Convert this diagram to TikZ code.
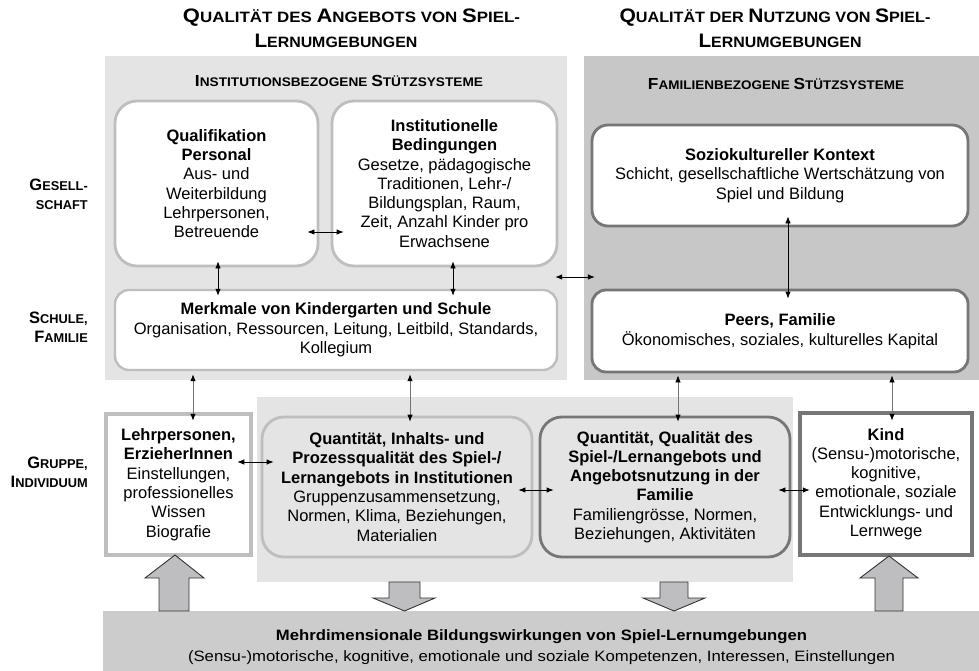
\documentclass[tikz,border=0pt]{standalone}
\usepackage{fontspec}
\setmainfont{Liberation Sans}
\usetikzlibrary{arrows.meta}
\definecolor{panelL}{RGB}{228,228,229}
\definecolor{panelD}{RGB}{199,199,200}
\definecolor{barC}{RGB}{204,204,205}
\definecolor{bordL}{RGB}{190,190,191}
\definecolor{bordD}{RGB}{118,118,118}
\definecolor{bigarr}{RGB}{190,190,192}
\def\bigsz{17}
\newcommand{\Bg}[1]{{\fontsize{\bigsz}{\bigsz}\selectfont #1}}
\begin{document}
\begin{tikzpicture}[x=1pt,y=-1pt,
  box/.style={align=center, inner sep=0pt, font=\fontsize{16.5}{19.3}\selectfont, text=black},
  lbox/.style={box, draw=bordL, line width=2.8pt, fill=white},
  dbox/.style={box, draw=bordD, line width=2.8pt, fill=white},
  panel/.style={inner sep=0pt, draw=none},
  arr/.style={{Latex[length=7pt,width=5.5pt]}-{Latex[length=7pt,width=5.5pt]}, line width=0.8pt, draw=black},
  garr/.style={{Latex[length=7pt,width=5.5pt,color=black]}-{Latex[length=7pt,width=5.5pt,color=black]}, line width=0.8pt, draw=black!55},
  bigarrow/.style={fill=bigarr, draw=black!80, line width=0.9pt, line join=miter},
  rowlab/.style={align=right, anchor=east, inner sep=0pt, font=\bfseries\fontsize{12.8}{19}\selectfont\def\bigsz{16.5}},
  head/.style={inner sep=0pt, font=\bfseries\fontsize{12.5}{14}\selectfont\def\bigsz{16}},
  title/.style={inner sep=0pt, font=\bfseries\fontsize{15}{20}\selectfont\def\bigsz{19.5}}
]
\useasboundingbox (0,0) rectangle (979,671);

% panels
\node[panel, fill=panelL, minimum width=462pt, minimum height=324pt] (lpanel) at (336,218) {};
\node[panel, fill=panelD, minimum width=395pt, minimum height=324pt] (rpanel) at (781.5,218) {};
\node[panel, fill=panelL, minimum width=536pt, minimum height=185pt] (mpanel) at (525,489.5) {};
\node[panel, fill=barC, minimum width=876pt, minimum height=60pt] (bar) at (541,641) {};

% titles
\node[title] (t1a) at (351.5,18) {\resizebox{337pt}{\height}{\Bg{Q}UALITÄT DES \Bg{A}NGEBOTS VON \Bg{S}PIEL-}};
\node[title] (t1b) at (336,41) {\resizebox{163pt}{\height}{\Bg{L}ERNUMGEBUNGEN}};
\node[title] (t2a) at (775,18) {\resizebox{311pt}{\height}{\Bg{Q}UALITÄT DER \Bg{N}UTZUNG VON \Bg{S}PIEL-}};
\node[title] (t2b) at (780,41) {\resizebox{163pt}{\height}{\Bg{L}ERNUMGEBUNGEN}};
\node[head] (h1) at (339,81) {\resizebox{288pt}{\height}{\Bg{I}NSTITUTIONSBEZOGENE \Bg{S}TÜTZSYSTEME}};
\node[head] (h2) at (776,84) {\resizebox{256pt}{\height}{\Bg{F}AMILIENBEZOGENE \Bg{S}TÜTZSYSTEME}};

% row labels
\node[rowlab] (r1) at (88,194) {\Bg{G}ESELL-\\SCHAFT};
\node[rowlab] (r2) at (88,327.5) {\Bg{S}CHULE,\\\Bg{F}AMILIE};
\node[rowlab] (r3) at (88,472.5) {\Bg{G}RUPPE,\\\Bg{I}NDIVIDUUM};

% upper boxes
\node[lbox, minimum width=203pt, minimum height=165pt, rounded corners=22pt] (qual) at (216.5,183.5)
 {\textbf{Qualifikation}\\\textbf{Personal}\\Aus- und\\Weiterbildung\\Lehrpersonen,\\Betreuende};
\node[lbox, minimum width=225pt, minimum height=165pt, rounded corners=22pt] (inst) at (444.5,183.5)
 {\textbf{Institutionelle}\\\textbf{Bedingungen}\\Gesetze, pädagogische\\Traditionen, Lehr-/\\Bildungsplan, Raum,\\Zeit, Anzahl Kinder pro\\Erwachsene};
\node[lbox, line width=2.4pt, minimum width=442pt, minimum height=80pt, rounded corners=14pt] (merk) at (336,330)
 {\textbf{Merkmale von Kindergarten und Schule}\\Organisation, Ressourcen, Leitung, Leitbild, Standards,\\Kollegium};
\node[dbox, minimum width=376pt, minimum height=101pt, rounded corners=16pt] (sozio) at (780,175.5)
 {\textbf{Soziokultureller Kontext}\\Schicht, gesellschaftliche Wertschätzung von\\Spiel und Bildung};
\node[dbox, minimum width=376pt, minimum height=82pt, rounded corners=14pt] (peers) at (780,331)
 {\textbf{Peers, Familie}\\[0.8pt]Ökonomisches, soziales, kulturelles Kapital};

% lower boxes
\node[box, draw=bordL, line width=4.5pt, fill=white, minimum width=145pt, minimum height=141pt] (lehr) at (178.5,484.5)
 {\textbf{Lehrpersonen,}\\\textbf{ErzieherInnen}\\Einstellungen,\\professionelles\\Wissen\\Biografie};
\node[lbox, fill=panelL, minimum width=270pt, minimum height=140pt, rounded corners=22pt] (qi) at (397,487)
 {\textbf{Quantität, Inhalts- und}\\\textbf{Prozessqualität des Spiel-/}\\\textbf{Lernangebots in Institutionen}\\Gruppenzusammensetzung,\\Normen, Klima, Beziehungen,\\Materialien};
\node[dbox, fill=panelL, minimum width=250pt, minimum height=140pt, rounded corners=22pt] (qf) at (665,487)
 {\textbf{Quantität, Qualität des}\\\textbf{Spiel-/Lernangebots und}\\\textbf{Angebotsnutzung in der}\\\textbf{Familie}\\Familiengrösse, Normen,\\Beziehungen, Aktivitäten};
\node[box, draw=bordD, line width=4.5pt, fill=white, minimum width=172pt, minimum height=142pt] (kind) at (886,484)
 {\textbf{Kind}\\(Sensu-)motorische,\\kognitive,\\emotionale, soziale\\Entwicklungs- und\\Lernwege};

% bottom bar text
\node[align=center, inner sep=0pt, font=\fontsize{15}{21}\selectfont] (bartext) at (541.5,647.5)
 {\resizebox{531pt}{\height}{\textbf{Mehrdimensionale Bildungswirkungen von Spiel-Lernumgebungen}}\\
  \resizebox{707pt}{\height}{(Sensu-)motorische, kognitive, emotionale und soziale Kompetenzen, Interessen, Einstellungen}};

% helper coordinates
\coordinate (xa) at (218,0);
\coordinate (xb) at (453,0);
\coordinate (xc) at (788,0);
\coordinate (xd) at (193,0);
\coordinate (xe) at (410,0);
\coordinate (xf) at (678,0);
\coordinate (xg) at (892,0);
\coordinate (ya) at (0,232);
\coordinate (yb) at (0,277);
\coordinate (yc) at (0,462);
\coordinate (yd) at (0,490);

% small arrows upper
\draw[arr, shorten <=-12pt, shorten >=-13pt] (qual.east |- ya) -- (inst.west |- ya);
\draw[arr, shorten <=-6pt, shorten >=-7pt] (qual.south -| xa) -- (merk.north -| xa);
\draw[arr, shorten <=-6pt, shorten >=-7pt] (inst.south -| xb) -- (merk.north -| xb);
\draw[arr, shorten <=-12pt, shorten >=-11pt] (lpanel.east |- yb) -- (rpanel.west |- yb);
\draw[arr, shorten <=-11pt, shorten >=-10pt] (sozio.south -| xc) -- (peers.north -| xc);

% small arrows lower
\draw[garr, shorten <=3pt, shorten >=-9pt] (merk.south -| xd) -- (lehr.north -| xd);
\draw[garr, shorten <=3pt, shorten >=-6pt] (merk.south -| xe) -- (qi.north -| xe);
\draw[garr, shorten <=2pt, shorten >=-6pt] (peers.south -| xf) -- (qf.north -| xf);
\draw[garr, shorten <=2pt, shorten >=-10pt] (peers.south -| xg) -- (kind.north -| xg);
\draw[arr, shorten <=-16pt, shorten >=-13pt] (lehr.east |- yc) -- (qi.west |- yc);
\draw[arr, shorten <=-15pt, shorten >=-15pt] (qi.east |- yd) -- (qf.west |- yd);
\draw[arr, shorten <=-13pt, shorten >=-12pt] (qf.east |- yd) -- (kind.west |- yd);

% big block arrows
\draw[bigarrow] (175,555) -- (204,578) -- (189,578) -- (189,611) -- (159,611) -- (159,578) -- (145,578) -- cycle;
\draw[bigarrow] (889,556) -- (918,578) -- (903,578) -- (903,611) -- (875,611) -- (875,578) -- (860,578) -- cycle;
\draw[bigarrow] (389,582) -- (420,582) -- (420,598) -- (435,598) -- (404.5,611) -- (373,598) -- (389,598) -- cycle;
\draw[bigarrow] (660,582) -- (688,582) -- (688,598) -- (705,598) -- (674,611) -- (643,598) -- (660,598) -- cycle;
\end{tikzpicture}
\end{document}
